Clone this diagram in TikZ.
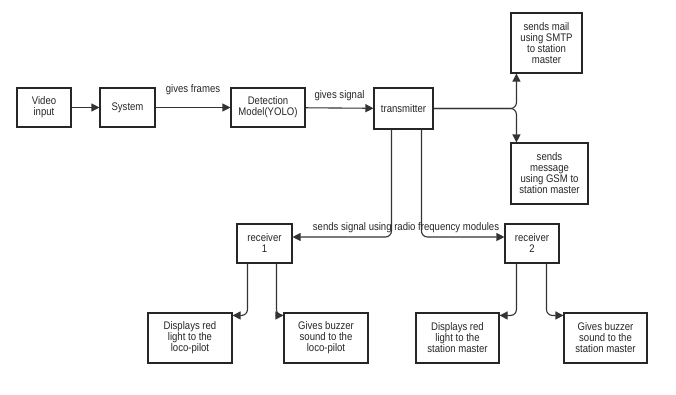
\documentclass[tikz,border=0pt]{standalone}
\usepackage{fontspec}
\setmainfont{Liberation Sans}[FakeStretch=0.87]
\usetikzlibrary{arrows.meta,calc}
\begin{document}
\begin{tikzpicture}[x=1pt,y=-1pt,
 box/.style={draw=black!85, line width=1.1pt, fill=white, inner sep=1pt, align=center,
   font=\fontsize{11}{11}\selectfont, text=black!85},
 conn/.style={draw=black!80, line width=1.1pt, -{Triangle[length=8pt,width=8pt]}, rounded corners=6pt},
 lbl/.style={font=\fontsize{11}{11}\selectfont, text=black!85, inner sep=0pt}]
\useasboundingbox[fill=white] (0,0) rectangle (676,394);

\node[box, minimum width=54pt, minimum height=39pt] (video) at (44,107.5) {Video\\input};
\node[box, minimum width=55pt, minimum height=39pt] (system) at (127.5,107.5) {System};
\node[box, minimum width=74pt, minimum height=39pt] (detect) at (268,107.5) {Detection\\Model(YOLO)};
\node[box, minimum width=59pt, minimum height=41pt] (trans) at (403.5,108.5) {transmitter};
\node[box, minimum width=71pt, minimum height=60pt] (mail) at (546.5,43) {sends mail\\using SMTP\\to station\\master};
\node[box, minimum width=77pt, minimum height=61pt] (msg) at (549.5,173.5) {sends\\message\\using GSM to\\station master};
\node[box, minimum width=55pt, minimum height=39pt] (r1) at (264.5,243.5) {receiver\\1};
\node[box, minimum width=54pt, minimum height=39pt] (r2) at (532,243.5) {receiver\\2};
\node[box, minimum width=84pt, minimum height=50pt] (d1) at (190,338) {Displays red\\light to the\\loco-pilot};
\node[box, minimum width=84pt, minimum height=50pt] (b1) at (326,338) {Gives buzzer\\sound to the\\loco-pilot};
\node[box, minimum width=83pt, minimum height=50pt] (d2) at (457.5,338) {Displays red\\light to the\\station master};
\node[box, minimum width=83pt, minimum height=50pt] (b2) at (605.5,338) {Gives buzzer\\sound to the\\station master};

\draw[conn] (video) -- (system);
\draw[conn] (system) -- node[lbl, midway, yshift=17.5pt] {gives frames} (detect);
\draw[conn] (detect) -- node[lbl, midway, yshift=12pt] {gives signal} (trans);

\draw[conn] (trans.east) -| ($(mail.south west)+(6,0)$);
\draw[conn] (trans.east) -| ($(msg.north west)+(6,0)$);

\draw[conn] ($(trans.south west)+(18,0)$) |- ($(r1.east)+(0,-6.5)$);
\draw[conn] ($(trans.south west)+(48,0)$) |- ($(r2.west)+(0,-6.5)$);
\node[lbl] (sig) at (406,228) {sends signal using radio frequency modules};

\draw[conn] ($(r1.south west)+(11,0)$) |- ($(d1.north east)+(0,3)$);
\draw[conn] ($(r1.south west)+(40,0)$) |- ($(b1.north west)+(0,3)$);
\draw[conn] ($(r2.south west)+(12,0)$) |- ($(d2.north east)+(0,3)$);
\draw[conn] ($(r2.south west)+(42,0)$) |- ($(b2.north west)+(0,3)$);
\end{tikzpicture}
\end{document}
